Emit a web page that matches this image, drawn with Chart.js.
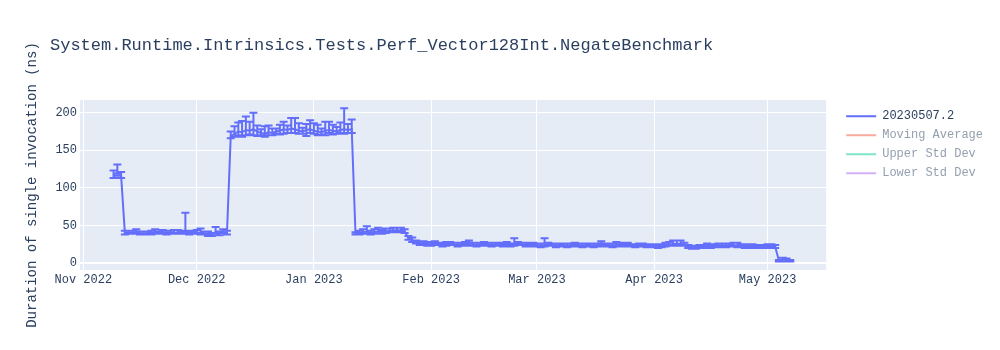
<!DOCTYPE html>
<html>
<head>
<meta charset="utf-8">
<script src="https://cdn.jsdelivr.net/npm/chart.js@4.4.0/dist/chart.umd.min.js"></script>
<style>
    body { margin: 0; background: #fff; }
    #contenedor { width: 1000px; height: 350px; }
</style>
</head>
<body>
<div id="contenedor"><canvas id="grafico" width="1000" height="350"></canvas></div>
<script>
// Datos (un punto por dia)
const fechas = [
    '2022-11-09','2022-11-10','2022-11-11','2022-11-12','2022-11-13','2022-11-14','2022-11-15','2022-11-16','2022-11-17','2022-11-18','2022-11-19','2022-11-20','2022-11-21','2022-11-22','2022-11-23','2022-11-24','2022-11-25','2022-11-26','2022-11-27','2022-11-28','2022-11-29','2022-11-30',
    '2022-12-01','2022-12-02','2022-12-03','2022-12-04','2022-12-05','2022-12-06','2022-12-07','2022-12-08','2022-12-09','2022-12-10','2022-12-11','2022-12-12','2022-12-13','2022-12-14','2022-12-15','2022-12-16','2022-12-17','2022-12-18','2022-12-19','2022-12-20','2022-12-21','2022-12-22','2022-12-23','2022-12-24','2022-12-25','2022-12-26','2022-12-27','2022-12-28','2022-12-29','2022-12-30','2022-12-31',
    '2023-01-01','2023-01-02','2023-01-03','2023-01-04','2023-01-05','2023-01-06','2023-01-07','2023-01-08','2023-01-09','2023-01-10','2023-01-11','2023-01-12','2023-01-13','2023-01-14','2023-01-15','2023-01-16','2023-01-17','2023-01-18','2023-01-19','2023-01-20','2023-01-21','2023-01-22','2023-01-23','2023-01-24','2023-01-25','2023-01-26','2023-01-27','2023-01-28','2023-01-29','2023-01-30','2023-01-31',
    '2023-02-01','2023-02-02','2023-02-03','2023-02-04','2023-02-05','2023-02-06','2023-02-07','2023-02-08','2023-02-09','2023-02-10','2023-02-11','2023-02-12','2023-02-13','2023-02-14','2023-02-15','2023-02-16','2023-02-17','2023-02-18','2023-02-19','2023-02-20','2023-02-21','2023-02-22','2023-02-23','2023-02-24','2023-02-25','2023-02-26','2023-02-27','2023-02-28',
    '2023-03-01','2023-03-02','2023-03-03','2023-03-04','2023-03-05','2023-03-06','2023-03-07','2023-03-08','2023-03-09','2023-03-10','2023-03-11','2023-03-12','2023-03-13','2023-03-14','2023-03-15','2023-03-16','2023-03-17','2023-03-18','2023-03-19','2023-03-20','2023-03-21','2023-03-22','2023-03-23','2023-03-24','2023-03-25','2023-03-26','2023-03-27','2023-03-28','2023-03-29','2023-03-30','2023-03-31',
    '2023-04-01','2023-04-02','2023-04-03','2023-04-04','2023-04-05','2023-04-06','2023-04-07','2023-04-08','2023-04-09','2023-04-10','2023-04-11','2023-04-12','2023-04-13','2023-04-14','2023-04-15','2023-04-16','2023-04-17','2023-04-18','2023-04-19','2023-04-20','2023-04-21','2023-04-22','2023-04-23','2023-04-24','2023-04-25','2023-04-26','2023-04-27','2023-04-28','2023-04-29','2023-04-30',
    '2023-05-01','2023-05-02','2023-05-03','2023-05-04','2023-05-05','2023-05-06','2023-05-07'
];

const duraciones = [
    117,121,116,40,41,40,41,40,39,40,40,41,40,41,40,41,40,41,41,42,40,40,
    41,40,40,39,38,41,39,41,40,169,172,175,174,177,176,178,175,173,172,174,173,175,176,178,177,179,178,176,175,177,178,
    176,175,174,176,177,176,175,177,178,177,178,39,40,41,42,40,41,42,41,42,43,43,44,43,42,33,30,28,26,27,25,
    25,26,25,24,25,26,25,24,25,26,25,25,24,25,26,25,24,25,25,24,25,24,25,26,25,24,24,25,
    24,23,24,25,24,23,24,24,23,24,25,24,23,24,24,23,24,25,24,24,23,24,25,24,24,23,23,24,24,23,23,
    23,22,23,24,25,25,26,25,24,22,21,21,22,22,23,22,23,23,24,23,24,24,23,23,22,22,23,22,22,22,
    23,22,22,3,3,4,3
];

// Barras de error (hacia arriba y hacia abajo)
const errorArriba = [
    6,10,5,3,2,3,4,2,3,2,3,4,2,3,3,2,4,3,2,25,3,2,
    3,6,2,3,2,7,3,4,3,6,10,12,15,18,12,22,8,5,10,9,6,4,8,10,6,14,15,10,5,8,12,
    10,9,5,12,11,8,6,10,28,8,13,2,3,4,7,3,4,5,3,4,3,4,3,4,3,3,4,2,3,2,3,
    2,3,2,2,3,2,2,3,2,2,5,2,3,2,2,2,3,2,2,2,3,2,8,2,2,3,2,2,
    2,3,9,2,2,3,2,2,3,2,2,2,3,2,2,3,2,4,2,2,3,4,2,2,3,2,2,2,2,2,2,
    2,2,2,3,3,5,4,5,3,2,2,2,2,2,3,2,2,3,2,3,2,3,4,2,2,3,2,2,2,2,
    2,3,2,1,4,2,1
];
const errorAbajo = [
    4,5,3,2,2,1,2,2,1,2,2,2,1,2,2,2,1,2,2,2,2,1,
    2,2,2,3,2,2,2,1,2,3,4,5,6,7,5,8,6,3,4,4,3,3,5,6,4,6,5,4,3,8,5,
    4,5,3,6,4,5,3,4,6,4,5,1,2,2,3,2,2,3,2,2,2,2,2,2,2,2,2,2,2,2,2,
    2,2,1,2,2,2,1,2,2,2,2,1,2,2,2,2,2,1,2,2,2,2,2,2,1,2,2,2,
    2,2,2,2,1,2,2,2,2,2,1,2,2,2,2,2,2,1,2,2,2,2,2,2,2,1,2,2,2,2,2,
    2,2,2,2,2,2,2,2,1,2,2,2,2,2,2,2,2,2,2,2,1,2,2,2,2,2,2,2,2,2,
    1,2,2,1,1,1,1
];

// Ejes
const ticksX = ['2022-11-01','2022-12-01','2023-01-01','2023-02-01','2023-03-01','2023-04-01','2023-05-01'];
const etiquetasX = ['Nov 2022','Dec 2022','Jan 2023','Feb 2023','Mar 2023','Apr 2023','May 2023'];
const ticksY = [0, 50, 100, 150, 200];
const rangoX = ['2022-10-31T03:00:00Z', '2023-05-16T12:00:00Z'];
const rangoY = [-9.3, 216.9];

// Series de la leyenda
const nombresSeries = ['20230507.2', 'Moving Average', 'Upper Std Dev', 'Lower Std Dev'];
const coloresSeries = ['#636efa', '#f7aa9d', '#7fe5ca', '#d5b1fc'];

const fuente = "'Courier New', 'Liberation Mono', monospace";
const colorTexto = '#2a3f5f';
const colorTextoApagado = '#949faf';

// Fondo del area de la grafica
const fondoGrafico = {
    id: 'fondoGrafico',
    beforeDraw(chart) {
        const { ctx, chartArea: { left, top, width, height } } = chart;
        ctx.save();
        ctx.fillStyle = '#e5ecf6';
        ctx.fillRect(left, top, width, height);
        ctx.restore();
    }
};

// Barras de error dibujadas con las escalas de Chart.js
const barrasError = {
    id: 'barrasError',
    afterDatasetsDraw(chart) {
        const { ctx, scales: { x, y } } = chart;
        ctx.save();
        ctx.strokeStyle = coloresSeries[0];
        ctx.lineWidth = 2;
        ctx.beginPath();
        duraciones.forEach((valor, i) => {
            const px = x.getPixelForValue(Date.parse(fechas[i]));
            const arriba = y.getPixelForValue(valor + errorArriba[i]);
            const abajo = y.getPixelForValue(valor - errorAbajo[i]);
            ctx.moveTo(px, arriba); ctx.lineTo(px, abajo);
            ctx.moveTo(px - 4, arriba); ctx.lineTo(px + 4, arriba);
            ctx.moveTo(px - 4, abajo); ctx.lineTo(px + 4, abajo);
        });
        ctx.stroke();
        ctx.restore();
    }
};

const datasets = nombresSeries.map((nombre, i) => ({
    label: nombre,
    data: i === 0 ? fechas.map((f, j) => ({ x: Date.parse(f), y: duraciones[j] })) : [],
    borderColor: coloresSeries[i],
    backgroundColor: coloresSeries[i],
    borderWidth: 2,
    pointRadius: 0,
    tension: 0
}));

const ctx = document.getElementById('grafico').getContext('2d');
new Chart(ctx, {
    type: 'line',
    data: { datasets },
    options: {
        responsive: false,
        animation: false,
        devicePixelRatio: 1,
        layout: { padding: { left: 50, right: 7, top: 0, bottom: 0 } },
        scales: {
            x: {
                type: 'linear',
                min: Date.parse(rangoX[0]),
                max: Date.parse(rangoX[1]),
                afterBuildTicks: s => { s.ticks = ticksX.map(d => ({ value: Date.parse(d) })) },
                afterFit: s => { s.height = 80 },
                grid: { color: '#ffffff', lineWidth: 1, drawTicks: false },
                border: { display: false },
                ticks: {
                    autoSkip: false, maxRotation: 0, padding: 3,
                    color: colorTexto, font: { family: fuente, size: 12 },
                    callback: (v, i) => etiquetasX[i]
                }
            },
            y: {
                min: rangoY[0],
                max: rangoY[1],
                afterBuildTicks: s => { s.ticks = ticksY.map(v => ({ value: v })) },
                afterFit: s => { s.width = 30 },
                grid: {
                    color: '#ffffff',
                    lineWidth: c => (c.tick && c.tick.value === 0 ? 2 : 1),
                    drawTicks: false
                },
                border: { display: false },
                ticks: { padding: 3, color: colorTexto, font: { family: fuente, size: 12 } },
                title: {
                    display: true,
                    text: 'Duration of single invocation (ns)',
                    color: colorTexto,
                    font: { family: fuente, size: 14 },
                    padding: { top: -26.4, bottom: 0 }
                }
            },
            // separador para mover la leyenda a la derecha
            separador: {
                type: 'linear',
                position: 'right',
                afterFit: s => { s.width = 13 },
                grid: { display: false },
                border: { display: false },
                ticks: { display: false }
            }
        },
        plugins: {
            title: {
                display: true,
                text: 'System.Runtime.Intrinsics.Tests.Perf_Vector128Int.NegateBenchmark',
                align: 'start',
                color: colorTexto,
                font: { family: fuente, size: 17, weight: 'normal' },
                padding: { top: 35, bottom: 44.6 }
            },
            legend: {
                position: 'right',
                align: 'start',
                fullSize: false,
                title: { display: true, text: '', font: { size: 1 }, padding: { top: 2, bottom: 0 } },
                labels: {
                    usePointStyle: true,
                    pointStyle: 'line',
                    pointStyleWidth: 30,
                    padding: 7,
                    font: { family: fuente, size: 12 },
                    generateLabels: chart => Chart.defaults.plugins.legend.labels.generateLabels(chart).map((item, i) => ({
                        ...item,
                        lineWidth: 2,
                        strokeStyle: coloresSeries[i],
                        fontColor: i === 0 ? colorTexto : colorTextoApagado
                    }))
                }
            },
            tooltip: { enabled: false }
        }
    },
    plugins: [fondoGrafico, barrasError]
});
</script>
</body>
</html>
